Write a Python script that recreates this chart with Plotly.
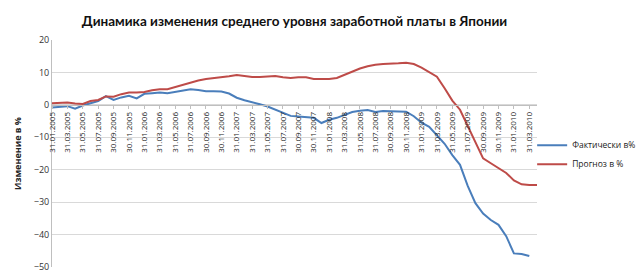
import pandas as pd
import plotly.graph_objects as go

# Monthly dates (end of month), Jan 2005 .. Apr 2010
months = [d.strftime("%d.%m.%Y") for d in pd.date_range("2005-01-31", periods=64, freq="ME")]
tick_idx = list(range(0, 64, 2))
tick_labels = [months[i] for i in tick_idx]

actual = [
    -0.8, -0.5, -0.4, -1.2, -0.2, 0.5, 1.2, 2.7, 1.5, 2.3,
    2.8, 2.0, 3.4, 3.6, 3.8, 3.6, 4.0, 4.2, 4.8, 4.6,
    4.2, 4.2, 4.1, 3.5, 2.2, 1.4, 0.9, 0.2, -0.5, -1.5,
    -2.6, -3.4, -3.6, -3.8, -4.0, -5.6, -4.6, -4.0, -3.0, -2.2,
    -1.8, -1.6, -2.2, -1.9, -2.0, -2.0, -2.1, -3.5, -5.5, -6.8,
    -9.5, -12.0, -15.5, -18.5, -25.0, -30.3, -33.5, -35.5, -37.0, -40.5,
    -45.8, -46.0, -46.6,
]
forecast = [
    0.5, 0.7, 0.7, 0.4, 0.3, 1.2, 1.5, 2.6, 2.5, 3.3,
    3.8, 3.8, 4.0, 4.5, 4.8, 4.8, 5.5, 6.2, 6.8, 7.5,
    8.0, 8.2, 8.5, 8.8, 9.2, 8.8, 8.6, 8.6, 8.8, 8.9,
    8.5, 8.3, 8.5, 8.5, 8.0, 8.0, 8.0, 8.3, 9.3, 10.3,
    11.2, 11.9, 12.4, 12.6, 12.6, 12.8, 13.0, 12.6, 11.5, 10.0,
    8.7, 5.1, 1.3, -1.5, -6.5, -11.5, -16.5, -18.0, -19.5, -21.0,
    -23.3, -24.5, -24.7, -24.7,
]

fig = go.Figure()
fig.add_trace(go.Scatter(x=list(range(len(actual))), y=actual, mode="lines",
                         name="Фактически в%", line=dict(color="#4A7EBB", width=2)))
fig.add_trace(go.Scatter(x=list(range(len(forecast))), y=forecast, mode="lines",
                         name="Прогноз в %", line=dict(color="#BE4B48", width=2)))

ymin, ymax = -50, 20
fig.update_layout(
    width=640, height=278,
    margin=dict(l=52, r=103, t=40, b=11, autoexpand=False),
    paper_bgcolor="white", plot_bgcolor="white",
    font=dict(family="Open Sans, Arial, sans-serif", color="#222"),
    title=dict(text="<b>Динамика изменения среднего уровня заработной платы в Японии</b>",
               x=0.5, xanchor="center", xref="paper", y=1 - 21 / 278, yref="container",
               yanchor="middle", font=dict(size=13.5, family="Lato, Open Sans, sans-serif", color="#111")),
    xaxis=dict(range=[0, 63], tickmode="array", tickvals=tick_idx, ticktext=tick_labels,
               tickangle=-90, tickfont=dict(size=8, color="#222"), automargin=False,
               anchor="free", position=(0 - ymin) / (ymax - ymin),
               showgrid=False, showline=True, linecolor="#bfbfbf", linewidth=1,
               ticks="outside", ticklen=3, tickcolor="#bfbfbf", zeroline=False),
    yaxis=dict(range=[ymin, ymax], dtick=10, tickfont=dict(size=9, color="#333"),
               gridcolor="#d9d9d9", gridwidth=1, zeroline=False, automargin=False,
               showline=True, linecolor="#bfbfbf", linewidth=1,
               title=dict(text="<b>Изменение в %</b>", font=dict(size=9, color="#222"), standoff=10)),
    legend=dict(x=0.99, xanchor="left", y=0.495, yanchor="middle",
                font=dict(size=8.5, color="#222"), bgcolor="rgba(0,0,0,0)",
                tracegroupgap=4),
    showlegend=True,
)

fig.write_html("out.html")
